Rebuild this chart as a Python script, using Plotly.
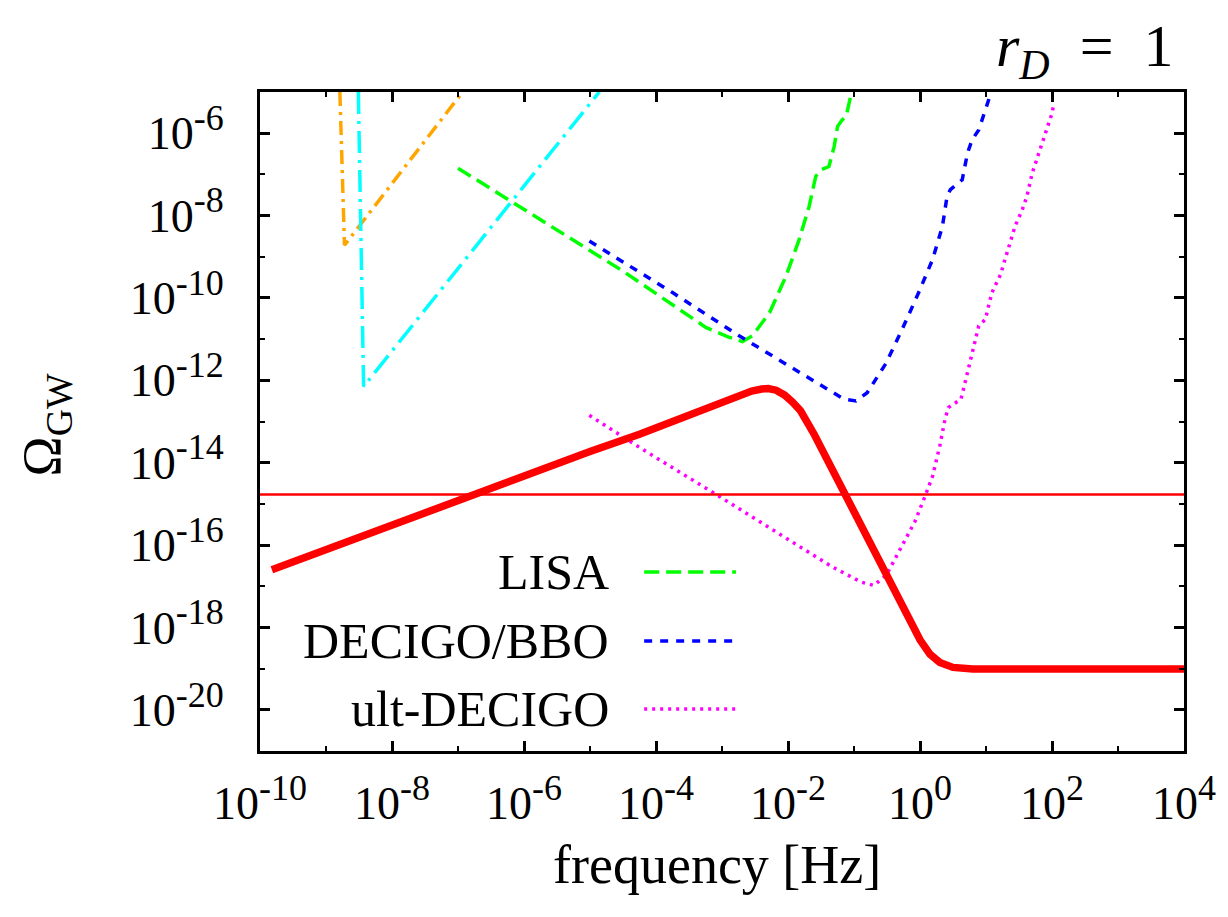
import numpy as np
import plotly.graph_objects as go

# ---------------- data (log10 values) ----------------
# thick red model curve
red_logf = [-9.82, -8.0, -6.82, -6.0, -5.0, -4.25, -3.28, -2.79, -2.55, -2.40, -2.30,
            -2.18, -2.05, -1.93, -1.81, -1.6, -1.4, -1.2, -1.0, -0.8, -0.6, -0.4,
            -0.2, 0.0, 0.15, 0.3, 0.5, 0.8, 1.5, 2.5, 4.0]
red_logO = [-16.60, -15.51, -14.78, -14.30, -13.73, -13.31, -12.70, -12.38, -12.26, -12.21, -12.20,
            -12.24, -12.36, -12.53, -12.74, -13.32, -13.95, -14.58, -15.22, -15.86, -16.50, -17.12,
            -17.74, -18.30, -18.65, -18.85, -18.97, -19.01, -19.01, -19.01, -19.01]

# horizontal red line
hline_logf = [-10.0, 4.0]
hline_logO = [-14.77, -14.77]

# LISA
lisa_logf = [-7.0, -5.71, -4.5, -3.24, -2.9, -2.69, -2.54, -2.28, -2.03, -1.83, -1.68,
             -1.58, -1.50, -1.38, -1.30, -1.25, -1.18, -1.12, -1.05, -1.03]
lisa_logO = [-6.85, -8.14, -9.35, -10.72, -10.95, -11.06, -10.92, -10.36, -9.47, -8.58, -7.78,
             -7.05, -6.89, -6.81, -6.32, -5.84, -5.68, -5.60, -5.07, -4.95]

# DECIGO/BBO
decigo_logf = [-5.01, -3.75, -2.74, -2.23, -1.48, -1.15, -0.97, -0.80, -0.52, -0.27, -0.02,
               0.19, 0.34, 0.41, 0.46, 0.64, 0.72, 0.79, 0.89, 1.04, 1.08]
decigo_logO = [-8.62, -9.87, -10.92, -11.41, -12.13, -12.46, -12.50, -12.30, -11.60, -10.76, -9.87,
               -9.07, -8.26, -7.53, -7.37, -7.13, -6.48, -6.16, -5.92, -5.19, -5.0]

# ultimate DECIGO
ult_logf = [-5.01, -4.25, -3.06, -1.92, -1.33, -0.89, -0.70, -0.51, -0.30, -0.08, 0.08,
            0.19, 0.30, 0.34, 0.38, 0.43, 0.62, 0.72, 0.79, 0.89, 0.99, 1.09, 1.22,
            1.29, 1.37, 1.44, 1.55, 1.62, 1.70, 1.80, 1.90, 2.00, 2.03]
ult_logO = [-12.85, -13.63, -14.80, -15.93, -16.53, -16.90, -16.98, -16.73, -16.09, -15.44, -14.80,
            -14.33, -13.59, -13.27, -12.94, -12.66, -12.46, -11.81, -11.33, -10.68, -10.52, -9.87, -9.43,
            -9.07, -8.66, -8.26, -7.86, -7.53, -6.97, -6.48, -6.00, -5.52, -5.27]

# orange curve
orange_logf = [-8.79, -8.72, -6.93]
orange_logO = [-5.0, -8.72, -5.0]

# cyan curve
cyan_logf = [-8.51, -8.43, -4.86]
cyan_logO = [-5.0, -12.15, -5.0]

# axis ticks
x_tick_exps = ["-10", "-8", "-6", "-4", "-2", "0", "2", "4"]
y_tick_exps = ["-6", "-8", "-10", "-12", "-14", "-16", "-18", "-20"]

legend_names = ["LISA", "DECIGO/BBO", "ult-DECIGO"]

# ---------------- figure ----------------
def p(v):
    return np.power(10.0, np.array(v, dtype=float))

def tick_label(e):
    return "10<sup><span style='font-size:36px'>" + e + "</span></sup>"

FONT = "Liberation Serif"
fig = go.Figure()

fig.add_trace(go.Scatter(x=p(orange_logf), y=p(orange_logO), mode="lines",
                         line=dict(color="#ffa500", width=3.5, dash="14px,6px,3px,6px")))
fig.add_trace(go.Scatter(x=p(cyan_logf), y=p(cyan_logO), mode="lines",
                         line=dict(color="#00ffff", width=3.5, dash="22px,7px,3px,7px")))
fig.add_trace(go.Scatter(x=p(lisa_logf), y=p(lisa_logO), mode="lines",
                         line=dict(color="#00ff00", width=3.5, dash="15px,7px")))
fig.add_trace(go.Scatter(x=p(decigo_logf), y=p(decigo_logO), mode="lines",
                         line=dict(color="#0000ff", width=3.5, dash="8px,8px")))
fig.add_trace(go.Scatter(x=p(ult_logf), y=p(ult_logO), mode="lines",
                         line=dict(color="#ff00ff", width=3.5, dash="3px,5px")))
fig.add_trace(go.Scatter(x=p(hline_logf), y=p(hline_logO), mode="lines",
                         line=dict(color="#ff0000", width=2.5)))
fig.add_trace(go.Scatter(x=p(red_logf), y=p(red_logO), mode="lines",
                         line=dict(color="#ff0000", width=7.5)))

axis_common = dict(type="log", showgrid=False, zeroline=False, showline=True,
                   linecolor="black", linewidth=3, mirror="allticks",
                   ticks="inside", ticklen=10, tickwidth=2.5, tickcolor="black",
                   tickfont=dict(family=FONT, size=46, color="black"))

fig.update_xaxes(range=[-10, 4], tickvals=p([float(e) for e in x_tick_exps]),
                 ticktext=[tick_label(e) for e in x_tick_exps],
                 minor=dict(dtick=1, ticks="inside", ticklen=5, tickwidth=2, tickcolor="black"),
                 ticklabelstandoff=10, **axis_common)
fig.update_yaxes(range=[-21, -5], tickvals=p([float(e) for e in y_tick_exps]),
                 ticktext=[tick_label(e) for e in y_tick_exps],
                 minor=dict(dtick=1, ticks="inside", ticklen=5, tickwidth=2, tickcolor="black"),
                 ticklabelstandoff=24, **axis_common)

# page has an 8px body margin; plot frame at page x 260..1186, y 92..751
annotations = []
shapes = []
H = 659.0
W = 926.0
leg_rows_py = [572, 641, 709]
leg_styles = [dict(color="#00ff00", width=3.5, dash="15px,7px"),
              dict(color="#0000ff", width=3.5, dash="8px,8px"),
              dict(color="#ff00ff", width=3.5, dash="3px,5px")]
for name, py, st in zip(legend_names, leg_rows_py, leg_styles):
    yp = (751 - py) / H
    annotations.append(dict(text=name, x=(612 - 260) / W, y=yp, xref="paper", yref="paper",
                            xanchor="right", yanchor="middle", showarrow=False,
                            font=dict(family=FONT, size=50, color="black")))
    shapes.append(dict(type="line", xref="paper", yref="paper",
                       x0=(645 - 260) / W, x1=(737 - 260) / W, y0=yp, y1=yp, line=st))

annotations.append(dict(text="<i>r</i><sub><i>D</i></sub>&nbsp;&nbsp;=&nbsp;&nbsp;1",
                        x=(1178 - 260) / W, y=(751 - 50) / H,
                        xref="paper", yref="paper", xanchor="right", yanchor="middle",
                        showarrow=False, font=dict(family=FONT, size=60, color="black")))
annotations.append(dict(text="Ω<sub>GW</sub>", x=(45 - 260) / W, y=(751 - 425) / H,
                        xref="paper", yref="paper", xanchor="center", yanchor="middle",
                        textangle=-90, showarrow=False,
                        font=dict(family=FONT, size=54, color="black")))
annotations.append(dict(text="frequency [Hz]", x=(718 - 260) / W, y=(751 - 865) / H,
                        xref="paper", yref="paper", xanchor="center", yanchor="middle",
                        showarrow=False, font=dict(family=FONT, size=54, color="black")))

fig.update_layout(width=1220, height=909, showlegend=False,
                  plot_bgcolor="white", paper_bgcolor="white",
                  margin=dict(l=252, r=42, t=84, b=166),
                  annotations=annotations, shapes=shapes)

fig.write_html("out.html")
